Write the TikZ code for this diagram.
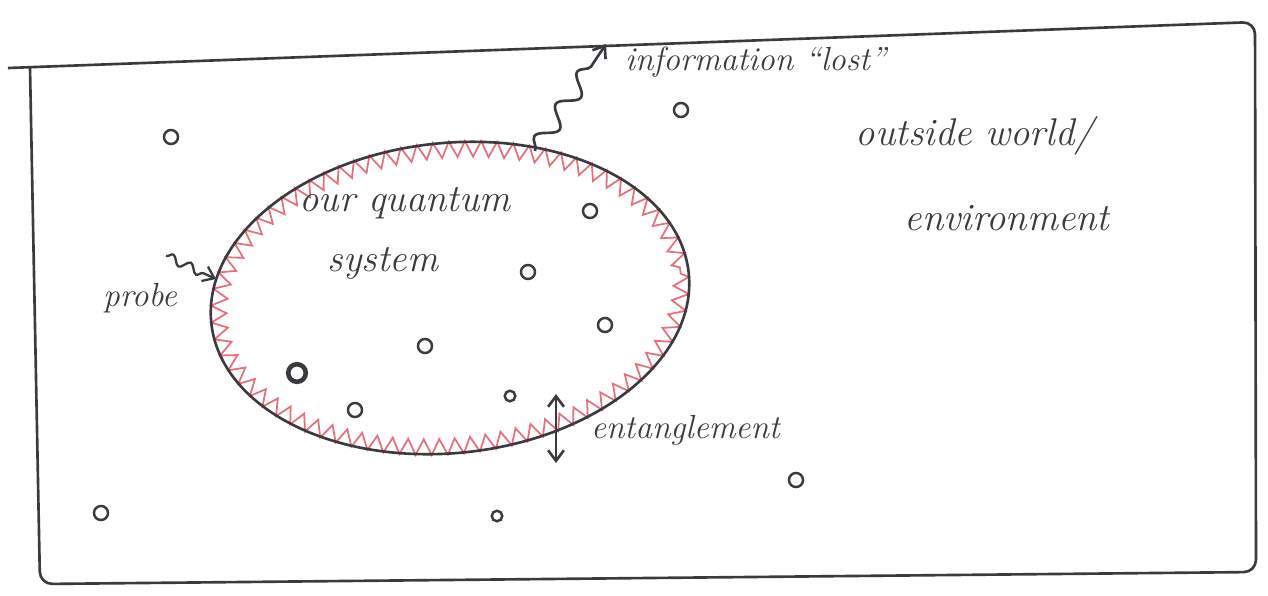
\documentclass[tikz,border=0pt]{standalone}
\usetikzlibrary{decorations.pathmorphing,arrows.meta}
\definecolor{pen}{RGB}{60,58,62}
\definecolor{pinkpen}{RGB}{232,112,124}
\tikzset{
  hand/.style={font=\fontsize{19}{22}\selectfont\itshape,text=pen,inner sep=1pt},
  bighand/.style={hand,font=\fontsize{22}{26}\selectfont\itshape},
  speck/.style={circle,draw=pen,line width=1.4pt,inner sep=0pt,minimum size=8pt},
  barb/.style={-{Straight Barb[length=6pt,width=9pt]}},
}
\begin{document}
\begin{tikzpicture}[x=0.2mm,y=-0.2mm,line width=1.5pt,draw=pen]
\useasboundingbox (0,0) rectangle (1268,595);
\coordinate (C) at (450,298);
\coordinate (L0) at (535,151);
\coordinate (L1) at (606,44);
\coordinate (P0) at (166,256);
\coordinate (P1) at (216,279);
\coordinate (E0) at (556,394);
\coordinate (E1) at (556,463);
\draw[rounded corners=7pt] (8,68) -- (1255,22) -- (1256,572) -- (40,584) -- (30,67.2);
\draw[pinkpen,line width=1pt,rotate around={6:(C)},decorate,decoration={zigzag,amplitude=4.5pt,segment length=9pt}] (C) ellipse[x radius=232,y radius=148];
\draw[rotate around={6:(C)}] (C) ellipse[x radius=240,y radius=155];
\draw[barb,decorate,decoration={snake,amplitude=5pt,segment length=22pt,post length=6pt}] (L0) -- (L1);
\draw[barb,line width=1.3pt,decorate,decoration={snake,amplitude=2.5pt,segment length=11pt,post length=4pt}] (P0) -- (P1);
\draw[{Straight Barb[length=6pt,width=9pt]}-{Straight Barb[length=6pt,width=9pt]}] (E0) -- (E1);
\node[hand,anchor=west] (lost) at (622,62) {information ``lost''};
\node[bighand] (world) at (975,136) {outside world/};
\node[bighand] (env) at (1007,218) {environment};
\node[bighand] (ourq) at (405,203) {our quantum};
\node[bighand] (sys) at (383,263) {system};
\node[hand] (probe) at (140,298) {probe};
\node[hand,anchor=west] (ent) at (588,430) {entanglement};
\node[speck] (s1) at (171,137) {};
\node[speck] (s2) at (681,110) {};
\node[speck] (s3) at (590,211) {};
\node[speck] (s4) at (528,272) {};
\node[speck] (s5) at (605,325) {};
\node[speck] (s6) at (425,346) {};
\node[speck,line width=2.6pt,minimum size=10pt] (s7) at (297,373) {};
\node[speck] (s8) at (355,410) {};
\node[speck,minimum size=6pt] (s9) at (510,396) {};
\node[speck] (s10) at (101,513) {};
\node[speck,minimum size=6pt] (s11) at (497,516) {};
\node[speck] (s12) at (796,480) {};
\end{tikzpicture}
\end{document}
